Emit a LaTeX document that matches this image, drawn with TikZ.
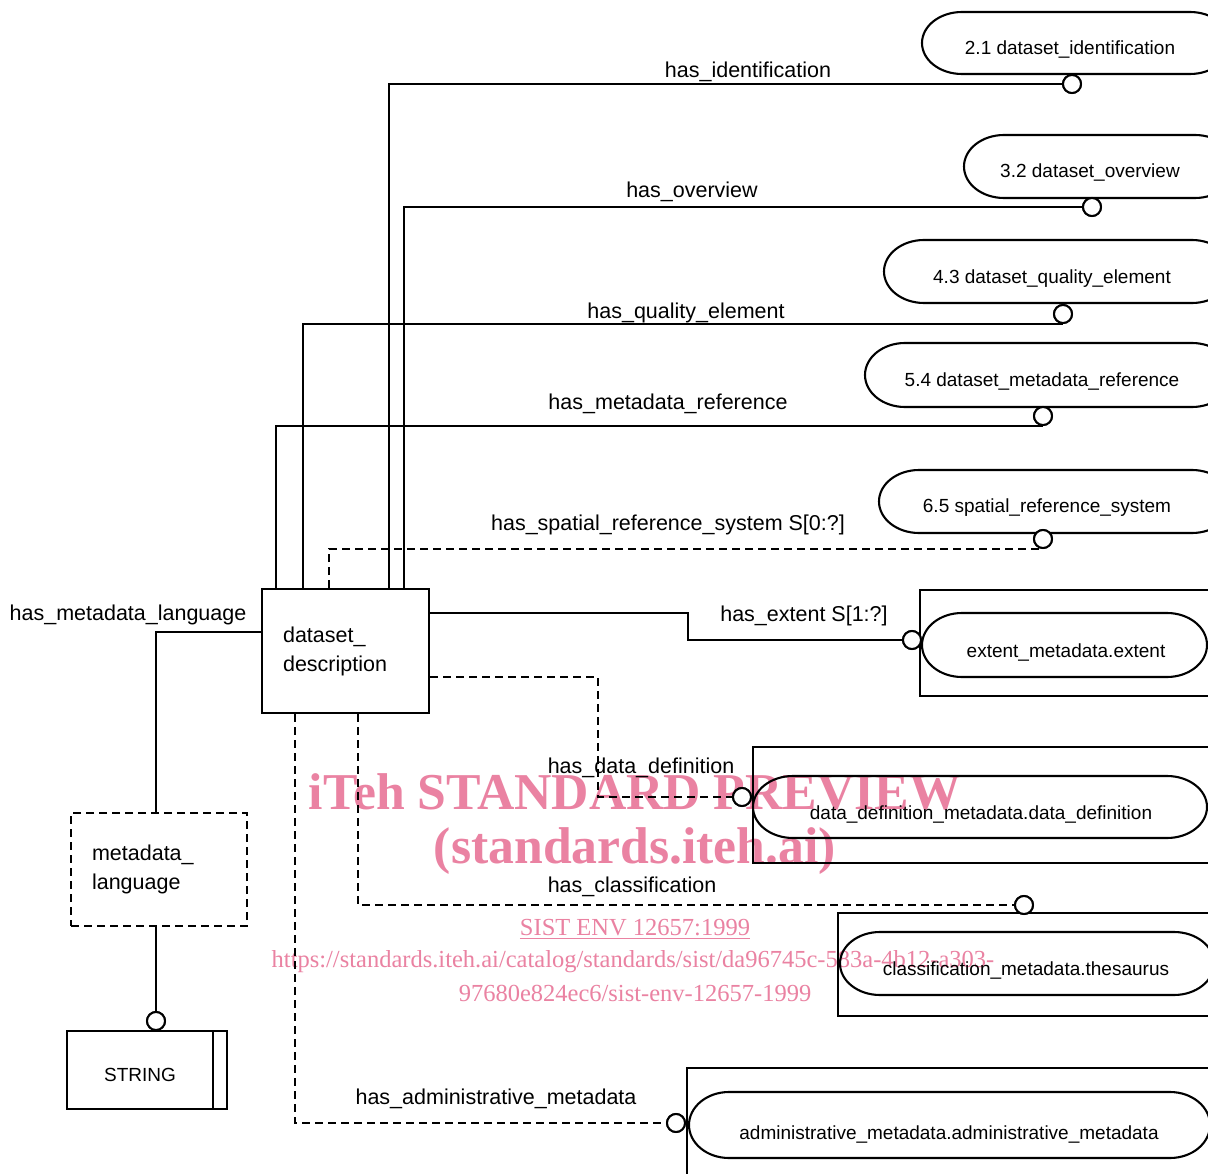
\documentclass[tikz,border=0pt]{standalone}
\usepackage{fontspec}
\setmainfont{Liberation Sans}
\newfontfamily\wmfont{Liberation Serif}
\definecolor{wm}{RGB}{234,130,162}
\tikzset{
  ln/.style={line width=2.1pt},
  dsh/.style={line width=2.1pt, dash pattern=on 8pt off 5pt},
  conn/.style={circle, draw, line width=2pt, fill=white, minimum size=18pt, inner sep=0pt},
  lbl/.style={font=\fontsize{21.5}{24}\selectfont, inner sep=0pt},
  etxt/.style={font=\fontsize{19}{22}\selectfont, inner sep=0pt},
  entbox/.style={draw, line width=2.1pt, anchor=north west, align=left,
    font=\fontsize{21.5}{29}\selectfont, inner xsep=21pt},
  wmbig/.style={text=wm, font=\wmfont\bfseries\fontsize{51.7}{56}\selectfont, inner sep=0pt},
  wmsmall/.style={text=wm, font=\wmfont\fontsize{24.5}{28}\selectfont, inner sep=0pt},
}
\newcommand\pillshape[5]{% L T R B ry
  \draw[ln] ({#1+40},#2) -- ({#3-40},#2)
    arc[start angle=90,end angle=-90,x radius=40pt,y radius=#5pt]
    -- ({#1+40},#4)
    arc[start angle=270,end angle=90,x radius=40pt,y radius=#5pt] -- cycle;}
\begin{document}
\begin{tikzpicture}[x=1pt,y=-1pt]
\clip (0,0) rectangle (1208,1174);
\fill[white] (0,0) rectangle (1208,1174);

% watermark
\node[wmbig] (wm1) at (635,792) {iTeh STANDARD PREVIEW};
\node[wmbig] (wm2) at (635,851) {(standards.iteh.ai)};
\node[wmsmall] (wm3) at (635,929) {\underline{SIST ENV 12657:1999}};
\node[wmsmall] (wm4) at (633,962) {https://standards.iteh.ai/catalog/standards/sist/da96745c-583a-4b12-a303-};
\node[wmsmall] (wm5) at (635,993) {97680e824ec6/sist-env-12657-1999};

% main entity
\node[entbox, text width=125pt, minimum height=124pt] (dd) at (261,588) {dataset\_\\description};
\node[entbox, dsh, text width=134pt, minimum height=113pt] (ml) at (70,812) {metadata\_\\language};
\node[draw, ln, minimum width=160pt, minimum height=78pt, anchor=north west] (str) at (66,1030) {};
\node[etxt] (strtxt) at (140,1075) {STRING};
\draw[ln] ([xshift=-15pt]str.north east) -- ([xshift=-15pt]str.south east);

% referenced entity boxes
\draw[ln] (1230,590) -- (920,590) -- (920,696) -- (1230,696);
\draw[ln] (1230,747) -- (753,747) -- (753,863) -- (1230,863);
\draw[ln] (1230,913) -- (838,913) -- (838,1016) -- (1230,1016);
\draw[ln] (1230,1068) -- (687,1068) -- (687,1190);

% pills
\pillshape{922}{12}{1230}{74}{31}
\pillshape{964}{135}{1235}{198}{31.5}
\pillshape{884}{240}{1232}{303}{31.5}
\pillshape{865}{343}{1232}{407}{32}
\pillshape{879}{470}{1232}{533}{31.5}
\pillshape{922}{613}{1207}{677}{32}
\pillshape{753}{776}{1207}{838}{31}
\pillshape{840}{932}{1214}{995}{31.5}
\pillshape{689}{1092}{1210}{1158}{33}

\node[etxt] (e1) at (1070,50) {2.1 dataset\_identification};
\node[etxt] (e2) at (1090,173) {3.2 dataset\_overview};
\node[etxt] (e3) at (1052,279) {4.3 dataset\_quality\_element};
\node[etxt] (e4) at (1042,382) {5.4 dataset\_metadata\_reference};
\node[etxt] (e5) at (1047,508) {6.5 spatial\_reference\_system};
\node[etxt] (e6) at (1066,653) {extent\_metadata.extent};
\node[etxt] (e7) at (981,814) {data\_definition\_metadata.data\_definition};
\node[etxt] (e8) at (1026,970) {classification\_metadata.thesaurus};
\node[etxt] (e9) at (949,1134) {administrative\_metadata.administrative\_metadata};

% connector circles (positions)
\coordinate (p1) at (1072,84);
\coordinate (p2) at (1092,207);
\coordinate (p3) at (1063,314);
\coordinate (p4) at (1043,416);
\coordinate (p5) at (1043,539);
\coordinate (p6) at (912,640);
\coordinate (p7) at (742,797);
\coordinate (p8) at (1024,905);
\coordinate (p9) at (676,1123);
\coordinate (p10) at (156,1021);
\node[conn] (c1) at (p1) {};
\node[conn] (c2) at (p2) {};
\node[conn] (c3) at (p3) {};
\node[conn] (c4) at (p4) {};
\node[conn] (c5) at (p5) {};
\node[conn] (c6) at (p6) {};
\node[conn] (c7) at (p7) {};
\node[conn] (c8) at (p8) {};
\node[conn] (c9) at (p9) {};
\node[conn] (c10) at (p10) {};

% connectors
\draw[ln] ([xshift=128pt]dd.north west) |- (c1.west);
\draw[ln] ([xshift=143pt]dd.north west) |- (c2.west);
\draw[ln] ([xshift=42pt]dd.north west) |- (c3.south);
\draw[ln] ([xshift=15pt]dd.north west) |- (c4.south);
\draw[dsh] ([xshift=68pt]dd.north west) |- (c5.south);
\draw[ln] ([yshift=-25pt]dd.north east) -| (688,627) |- (c6.west);
\draw[dsh] ([yshift=-89pt]dd.north east) -| (598,740) |- (c7.west);
\draw[dsh] ([xshift=97pt]dd.south west) |- (c8.west);
\draw[dsh] ([xshift=34pt]dd.south west) |- (c9.west);
\draw[ln] ([yshift=-44pt]dd.north west) -| (ml.north -| c10);
\draw[ln] (ml.south -| c10) -- (c10.north);

% redraw circles on top
\node[conn] at (p1) {};
\node[conn] at (p2) {};
\node[conn] at (p3) {};
\node[conn] at (p4) {};
\node[conn] at (p5) {};
\node[conn] at (p6) {};
\node[conn] at (p7) {};
\node[conn] at (p8) {};
\node[conn] at (p9) {};
\node[conn] at (p10) {};

% relation labels
\node[lbl] (l1) at (748,72) {has\_identification};
\node[lbl] (l2) at (692,192) {has\_overview};
\node[lbl] (l3) at (686,313) {has\_quality\_element};
\node[lbl] (l4) at (668,404) {has\_metadata\_reference};
\node[lbl] (l5) at (668,525) {has\_spatial\_reference\_system S[0:?]};
\node[lbl] (l6) at (804,616) {has\_extent S[1:?]};
\node[lbl] (l7) at (641,768) {has\_data\_definition};
\node[lbl] (l8) at (632,887) {has\_classification};
\node[lbl] (l9) at (496,1099) {has\_administrative\_metadata};
\node[lbl] (l10) at (128,615) {has\_metadata\_language};
\end{tikzpicture}
\end{document}
